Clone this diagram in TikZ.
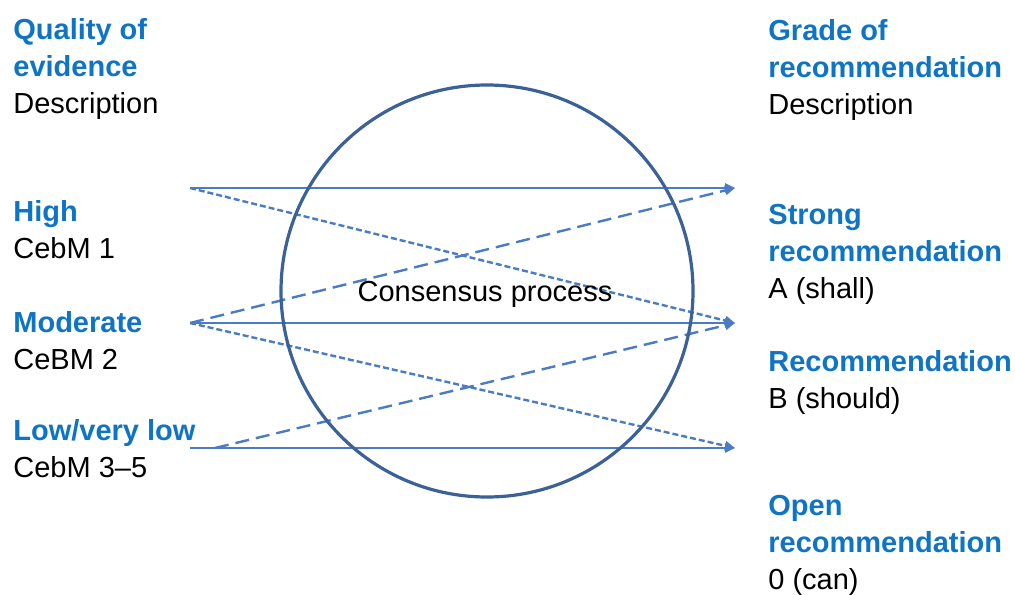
\documentclass[tikz,border=0pt]{standalone}
\usepackage{fontspec}
\setmainfont{Liberation Sans}
\usepackage{xcolor}
\usetikzlibrary{arrows.meta}

\definecolor{headblue}{RGB}{16,116,196}
\definecolor{linkblue}{RGB}{74,124,196}
\definecolor{ringblue}{RGB}{60,96,152}
\newcommand{\hd}[1]{\textcolor{headblue}{\bfseries #1}}

\tikzset{
  every node/.style={inner sep=0pt, font=\fontsize{14.5}{18.4}\selectfont, align=left, anchor=base west},
  link/.style={linkblue, line width=1.2pt, -{Triangle[length=5pt,width=4.5pt]}},
  shortdash/.style={dash pattern=on 3pt off 1.5pt},
  longdash/.style={dash pattern=on 7pt off 3.5pt},
}

\begin{document}
\begin{tikzpicture}[x=0.5pt,y=-0.5pt]
    \useasboundingbox (0,0) rectangle (1015,594);
    % evidence side (base = last line)
    \node (qual) at (13,113) {\hd{Quality of}\\\hd{evidence}\\Description};
    \node (high) at (13,258) {\hd{High}\\CebM 1};
    \node (mod) at (13,369) {\hd{Moderate}\\CeBM 2};
    \node (low) at (13,477) {\hd{Low/very low}\\CebM 3--5};
    % grade side
    \node (grade) at (768,114) {\hd{Grade of}\\\hd{recommendation}\\Description};
    \node (strong) at (768,298) {\hd{Strong}\\\hd{recommendation}\\A (shall)};
    \node (rec) at (768,408) {\hd{Recommendation}\\B (should)};
    \node (open) at (768,589) {\hd{Open}\\\hd{recommendation}\\0 (can)};
    % line ends
    \coordinate (hiOut) at (190,188);
    \coordinate (modOut) at (190,323);
    \coordinate (lowOut) at (190,448);
    \coordinate (lowOut2) at (215,448);
    \coordinate (aIn) at (735,188);
    \coordinate (bIn) at (735,323);
    \coordinate (zIn) at (735,448);
    \draw [link] (hiOut) -- (aIn);
    \draw [link] (modOut) -- (bIn);
    \draw [link] (lowOut) -- (zIn);
    \draw [link, shortdash] (hiOut) -- (bIn);
    \draw [link, shortdash] (modOut) -- (zIn);
    \draw [link, longdash] (modOut) -- (aIn);
    \draw [link, longdash] (lowOut2) -- (bIn);
    % consensus
    \draw [ringblue, line width=1.6pt] (487,291) circle [radius=206];
    \node [anchor=base] (cons) at (485,301) {Consensus process};
\end{tikzpicture}
\end{document}
